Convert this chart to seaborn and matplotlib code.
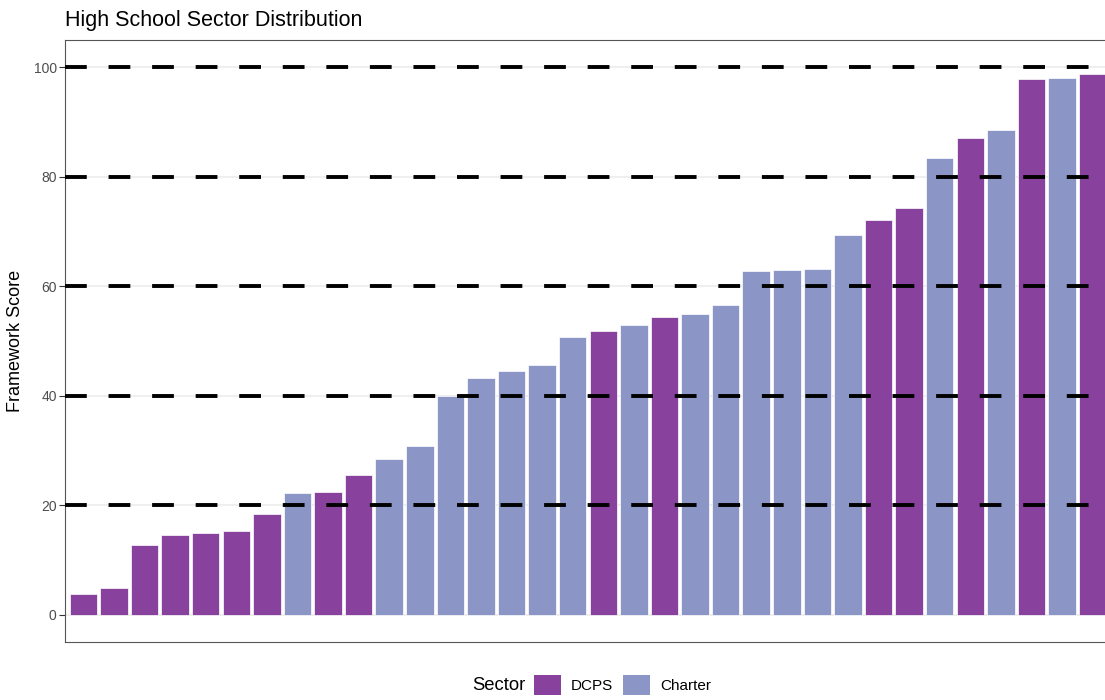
import matplotlib.pyplot as plt
import pandas as pd
import seaborn as sns
from matplotlib.patches import Patch

# --- Dados ---
scores = [3.8, 4.9, 12.7, 14.6, 14.9, 15.3, 18.4, 22.2, 22.4, 25.5,
          28.4, 30.8, 39.9, 43.2, 44.6, 45.7, 50.8, 51.9, 53.0, 54.3,
          55.0, 56.6, 62.8, 63.0, 63.2, 69.4, 72.1, 74.3, 83.4, 87.1,
          88.5, 97.8, 98.0, 98.7]
sectors = ['DCPS', 'DCPS', 'DCPS', 'DCPS', 'DCPS', 'DCPS', 'DCPS', 'Charter', 'DCPS', 'DCPS',
           'Charter', 'Charter', 'Charter', 'Charter', 'Charter', 'Charter', 'Charter', 'DCPS', 'Charter', 'DCPS',
           'Charter', 'Charter', 'Charter', 'Charter', 'Charter', 'Charter', 'DCPS', 'DCPS', 'Charter', 'DCPS',
           'Charter', 'DCPS', 'Charter', 'DCPS']
schools = [f'School {i + 1}' for i in range(len(scores))]
thresholds = [20, 40, 60, 80, 100]
sector_colors = {'DCPS': '#88419D', 'Charter': '#8C96C6'}

df = pd.DataFrame({'School': schools, 'Score': scores, 'Sector': sectors})

sns.set_theme(style="white")
plt.rcParams['font.family'] = ['Liberation Sans', 'DejaVu Sans']
plt.rcParams['text.color'] = 'black'

fig = plt.figure(figsize=(11.05, 7), dpi=100)
ax = fig.add_axes([65 / 1105, 1 - 642 / 700, 1046 / 1105, 602 / 700])

sns.barplot(data=df, x='School', y='Score', hue='Sector', palette=sector_colors,
            dodge=False, width=0.9, saturation=1, legend=False,
            edgecolor='white', linewidth=0.5, ax=ax)

for t in thresholds:
    ax.axhline(t, color='black', linestyle=(0, (5.6, 5.6)), linewidth=2.8, zorder=3)

ax.set_xlim(-0.6, len(scores) - 0.4)
ax.set_ylim(-5, 105)
ax.set_yticks([0, 20, 40, 60, 80, 100])
ax.yaxis.grid(True, color='#EBEBEB', linewidth=1.1)
ax.set_axisbelow(True)
ax.set_xticks([])
ax.set_xlabel('')
ax.set_ylabel('Framework Score', fontsize=13, color='black', labelpad=7)
ax.tick_params(axis='y', left=True, length=4, width=0.8, color='#333333',
               labelsize=10, labelcolor='#4D4D4D', pad=2)
for s in ax.spines.values():
    s.set_color('#555555')
    s.set_linewidth(0.8)

ax.set_title('High School Sector Distribution', loc='left', fontsize=15.5,
             color='black', pad=10)

# legenda na parte de baixo
fig.text(472 / 1105, 1 - 685 / 700, 'Sector', fontsize=13.3, color='black',
         va='center', ha='left')
handles = [Patch(facecolor=sector_colors[k], edgecolor='none') for k in ['DCPS', 'Charter']]
leg = fig.legend(handles=handles, labels=['DCPS', 'Charter'], loc='center left',
                 bbox_to_anchor=(534 / 1105, 1 - 685 / 700), ncol=2, frameon=False,
                 fontsize=11, handlelength=1.77, handleheight=1.65, handletextpad=0.65,
                 columnspacing=0.65, borderpad=0, borderaxespad=0)
for txt in leg.get_texts():
    txt.set_color('black')

plt.savefig('out.png', dpi=100)
